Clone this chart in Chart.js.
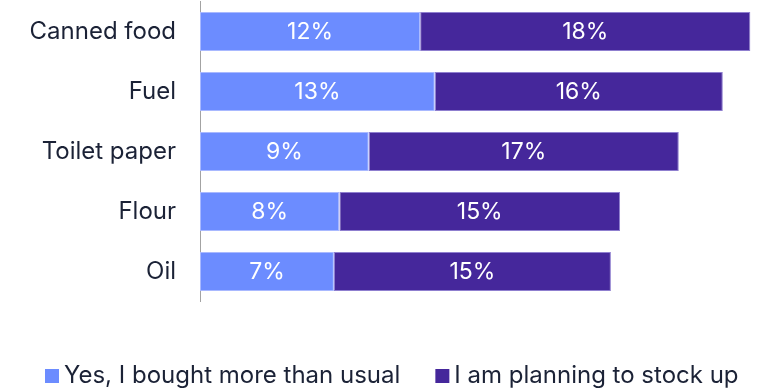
<!DOCTYPE html>
<html>
<head>
<meta charset="utf-8">
<script src="https://cdn.jsdelivr.net/npm/chart.js@4/dist/chart.umd.min.js"></script>
<style>
  html, body { margin: 0; padding: 0; background: #ffffff; }
  #wrap { width: 765px; height: 392px; position: relative; }
</style>
</head>
<body>
<div id="wrap"><canvas id="c"></canvas></div>
<script>
const categories = ["Canned food", "Fuel", "Toilet paper", "Flour", "Oil"];
const boughtMore = [12.0, 12.8, 9.2, 7.6, 7.3];
const planningStock = [18.0, 15.7, 16.9, 15.3, 15.1];
const seriesNames = ["Yes, I bought more than usual", "I am planning to stock up"];

const FONT = "Inter, 'Noto Sans', sans-serif";
const TEXT = "#1b2236";
const LEGEND_PAD = 42;

const barLabels = {
  id: 'barLabels',
  afterDatasetsDraw(chart) {
    const ctx = chart.ctx;
    ctx.save();
    ctx.font = "23px " + FONT;
    ctx.fillStyle = "#ffffff";
    ctx.textAlign = "center";
    ctx.textBaseline = "middle";
    chart.data.datasets.forEach((ds, di) => {
      const meta = chart.getDatasetMeta(di);
      meta.data.forEach((bar, i) => {
        const p = bar.getProps(['x', 'y', 'base'], true);
        const cx = (p.x + p.base) / 2;
        ctx.fillText(Math.round(ds.data[i]) + "%", cx, p.y + 1);
      });
    });
    ctx.restore();
  }
};

const legendFix = {
  id: 'legendFix',
  beforeInit(chart) {
    const lg = chart.legend;
    if (!lg) return;
    const origFit = lg.fit;
    lg.fit = function () {
      this.maxWidth = 2000;
      origFit.call(this);
      this.height = 70;
    };
    const origDraw = lg.draw;
    lg.draw = function () {
      const r = this.right;
      this.right = 2000;
      const ctx = this.ctx;
      ctx.save();
      ctx.translate(10, 0);
      origDraw.apply(this, arguments);
      ctx.restore();
      this.right = r;
    };
  }
};

new Chart(document.getElementById('c'), {
  type: 'bar',
  data: {
    labels: categories,
    datasets: [
      {
        label: seriesNames[0],
        data: boughtMore,
        backgroundColor: "#6c8cff",
        borderColor: "#a9b9ff",
        borderWidth: 1,
        borderSkipped: false,
        categoryPercentage: 1,
        barPercentage: 0.65
      },
      {
        label: seriesNames[1],
        data: planningStock,
        backgroundColor: "#45279b",
        borderColor: "#8f7fcf",
        borderWidth: 1,
        borderSkipped: false,
        categoryPercentage: 1,
        barPercentage: 0.65
      }
    ]
  },
  options: {
    indexAxis: 'y',
    responsive: true,
    maintainAspectRatio: false,
    animation: false,
    layout: { padding: { top: 1.5, right: 0, bottom: 0, left: 0 } },
    scales: {
      x: {
        stacked: true,
        min: 0,
        max: 30.8,
        display: true,
        grid: { display: false, drawTicks: false },
        border: { display: false },
        ticks: { display: false },
        afterFit(scale) { scale.height = 20.5; scale.paddingLeft = 0; scale.paddingRight = 0; }
      },
      y: {
        stacked: true,
        grid: { display: false, drawTicks: false },
        border: { display: true, color: "#a3a3a3", width: 1 },
        ticks: {
          padding: 24,
          color: TEXT,
          font: { family: FONT, size: 24 }
        },
        afterFit(scale) { scale.width = 200; scale.paddingTop = 0; scale.paddingBottom = 0; }
      }
    },
    plugins: {
      legend: {
        position: 'bottom',
        align: 'start',
        labels: {
          usePointStyle: true,
          boxWidth: 0.01,
          boxHeight: 14,
          padding: LEGEND_PAD,
          color: TEXT,
          font: { family: FONT, size: 24 },
          generateLabels(chart) {
            return chart.data.datasets.map((ds, i) => ({
              text: ds.label,
              fillStyle: ds.backgroundColor,
              strokeStyle: ds.backgroundColor,
              lineWidth: 0,
              pointStyle: 'rect',
              fontColor: TEXT,
              hidden: false,
              datasetIndex: i
            }));
          }
        }
      },
      tooltip: { enabled: false }
    }
  },
  plugins: [barLabels, legendFix]
});
</script>
</body>
</html>
